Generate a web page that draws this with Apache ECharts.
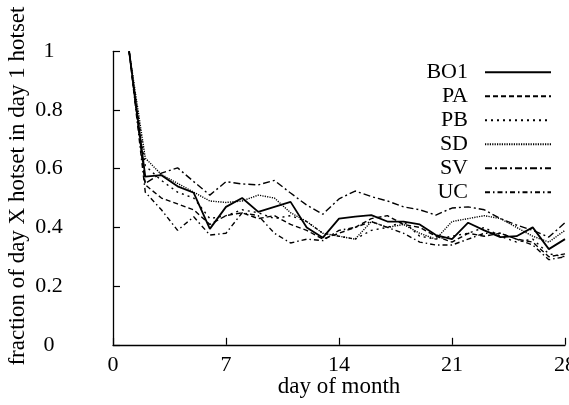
<!DOCTYPE html>
<html>
<head>
<meta charset="utf-8">
<script src="https://cdn.jsdelivr.net/npm/echarts@6/dist/echarts.min.js"></script>
<style>
  html, body { margin: 0; padding: 0; background: #fff; }
  #chart { width: 569px; height: 405px; }
</style>
</head>
<body>
<div id="chart"></div>
<script>
// Day of month for each sample
var days = [1,2,3,4,5,6,7,8,9,10,11,12,13,14,15,16,17,18,19,20,21,22,23,24,25,26,27,28];

// Fraction of the day-X hotset that was also in the day-1 hotset, per trace
var BO1 = [1.0,0.573,0.578,0.54,0.518,0.395,0.47,0.50,0.453,0.47,0.487,0.40,0.365,0.43,0.437,0.442,0.42,0.42,0.41,0.374,0.36,0.416,0.39,0.367,0.37,0.40,0.326,0.36];
var PA  = [1.0,0.545,0.50,0.48,0.46,0.41,0.44,0.45,0.43,0.44,0.41,0.39,0.36,0.38,0.40,0.43,0.44,0.41,0.40,0.37,0.35,0.38,0.37,0.38,0.36,0.35,0.30,0.31];
var PB  = [1.0,0.61,0.56,0.52,0.50,0.43,0.44,0.46,0.45,0.43,0.44,0.42,0.38,0.37,0.36,0.39,0.40,0.42,0.37,0.36,0.37,0.38,0.40,0.37,0.35,0.36,0.31,0.30];
var SD  = [1.0,0.636,0.58,0.55,0.52,0.49,0.485,0.49,0.51,0.50,0.45,0.42,0.38,0.37,0.36,0.42,0.40,0.41,0.38,0.36,0.42,0.43,0.44,0.43,0.40,0.37,0.35,0.39];
var SV  = [1.0,0.55,0.585,0.603,0.556,0.51,0.556,0.548,0.545,0.56,0.517,0.476,0.445,0.497,0.524,0.505,0.49,0.47,0.46,0.442,0.466,0.47,0.46,0.43,0.408,0.39,0.367,0.416];
var UC  = [1.0,0.52,0.46,0.39,0.436,0.374,0.38,0.45,0.44,0.38,0.347,0.36,0.355,0.39,0.40,0.42,0.40,0.38,0.35,0.34,0.34,0.36,0.38,0.38,0.36,0.34,0.29,0.30];

var xTicks = [0, 7, 14, 21, 28];
var yTicks = [0, 0.2, 0.4, 0.6, 0.8, 1];

var FONT = '"Liberation Serif", "DejaVu Serif", serif';

var traces = [
  { name: 'BO1', values: BO1, dash: 'solid', width: 1.8 },
  { name: 'PA',  values: PA,  dash: [5, 3], width: 1.4 },
  { name: 'PB',  values: PB,  dash: [2, 4], width: 1.4 },
  { name: 'SD',  values: SD,  dash: [1.2, 1.2], width: 1.4 },
  { name: 'SV',  values: SV,  dash: [7, 3, 2, 3], width: 1.4 },
  { name: 'UC',  values: UC,  dash: [5, 3, 1.5, 3], width: 1.4 }
];

function pairs(vals) {
  return days.map(function (d, i) { return [d, vals[i]]; });
}

var chart = echarts.init(document.getElementById('chart'), null, { renderer: 'canvas' });

chart.setOption({
  animation: false,
  backgroundColor: '#fff',
  grid: { left: 113, right: 4, top: 51.3, bottom: 60.2, containLabel: false, outerBoundsMode: 'none' },
  legend: {
    orient: 'vertical',
    right: 17,
    top: 61,
    padding: 0,
    align: 'right',
    itemWidth: 66,
    itemHeight: 10,
    itemGap: 1.5,
    selectedMode: false,
    itemStyle: { opacity: 0 },
    textStyle: { fontFamily: FONT, fontSize: 22, color: '#000', padding: [0, 12, 0, 0], lineHeight: 22.5 },
    data: traces.map(function (t) { return t.name; })
  },
  xAxis: {
    type: 'value',
    min: 0, max: 28, interval: 7,
    name: 'day of month',
    nameLocation: 'middle',
    nameGap: 31,
    nameMoveOverlap: false,
    nameTextStyle: { fontFamily: FONT, fontSize: 23, color: '#000' },
    axisLine: { show: true, onZero: false, lineStyle: { color: '#000', width: 1.3 } },
    axisTick: { show: true, inside: true, length: 7, lineStyle: { color: '#000', width: 1.2 } },
    axisLabel: {
      fontFamily: FONT, fontSize: 22, color: '#000', margin: 9,
      showMinLabel: true, showMaxLabel: true,
      formatter: function (v) { return xTicks.indexOf(v) >= 0 ? String(v) : ''; }
    },
    splitLine: { show: false }
  },
  yAxis: {
    type: 'value',
    min: 0, max: 1, interval: 0.2,
    name: 'fraction of day X hotset in day 1 hotset',
    nameLocation: 'middle',
    nameGap: 84,
    nameMoveOverlap: false,
    nameTextStyle: { fontFamily: FONT, fontSize: 23, color: '#000', padding: [0, 0, 0, 24] },
    axisLine: { show: true, onZero: false, lineStyle: { color: '#000', width: 1.3 } },
    axisTick: { show: true, inside: true, length: 7, lineStyle: { color: '#000', width: 1.2 } },
    axisLabel: {
      fontFamily: FONT, fontSize: 22, color: '#000', margin: 64, align: 'center',
      formatter: function (v) {
        for (var i = 0; i < yTicks.length; i++) {
          if (Math.abs(yTicks[i] - v) < 1e-9) return String(yTicks[i]);
        }
        return '';
      }
    },
    splitLine: { show: false }
  },
  series: traces.map(function (t) {
    return {
      name: t.name,
      type: 'line',
      data: pairs(t.values),
      symbol: 'none',
      showSymbol: false,
      color: '#000',
      lineStyle: { color: '#000', width: t.width, type: t.dash },
      z: t.name === 'BO1' ? 3 : 2
    };
  })
});
</script>
</body>
</html>
